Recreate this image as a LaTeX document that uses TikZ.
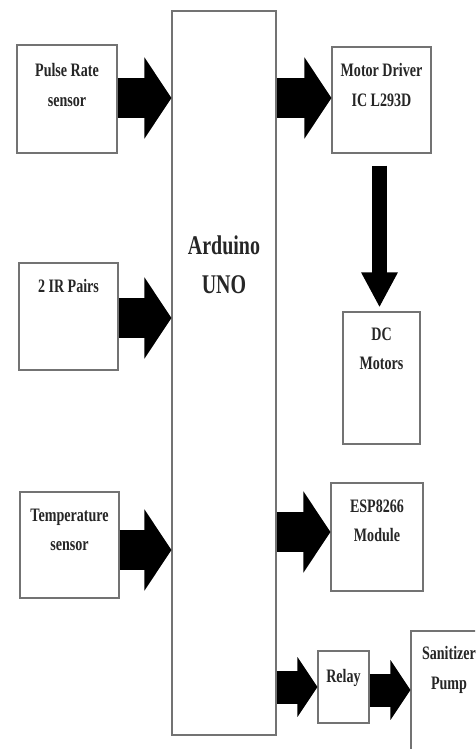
\documentclass[tikz,border=0pt]{standalone}
\usepackage{fontspec}
\setmainfont{Liberation Serif}
\newfontfamily\boxfont[FakeStretch=0.74]{Liberation Serif}
\usetikzlibrary{positioning,arrows.meta}

\tikzset{
    block/.style={draw=black!55, line width=1.1pt, inner sep=0pt},
    boxtxt/.style={inner sep=0pt, align=center, text=black!85,
        font=\boxfont\bfseries\fontsize{19}{29.5}\selectfont},
    bigarrow/.style={line width=40pt, -{Triangle[length=27pt,width=80pt]}},
    smallarrow/.style={line width=33pt, -{Triangle[length=20pt,width=59pt]}},
    downarrow/.style={line width=15pt, -{Triangle[length=35pt,width=34pt]}}
}

\begin{document}
\begin{tikzpicture}[x=1pt,y=-1pt]
            \clip (0,0) rectangle (475,749);
            \fill[white] (0,0) rectangle (475,749);

            %controller
            \node[block, minimum width=104pt, minimum height=724pt] (uno) at (224,373) {};
            \node[boxtxt, font=\boxfont\bfseries\fontsize{27}{39}\selectfont] (unotxt) at (224,265) {Arduino\\UNO};

            %inputs
            \node[block, minimum width=100pt, minimum height=108pt] (pulse) at (67,99) {};
            \node[boxtxt, below=19pt of pulse.north] (pulsetxt) {Pulse Rate\\sensor};
            \node[block, minimum width=99pt, minimum height=107pt] (ir) at (68.5,316.5) {};
            \node[boxtxt, below=17pt of ir.north] (irtxt) {2 IR Pairs};
            \node[block, minimum width=99pt, minimum height=106pt] (temp) at (69.5,545) {};
            \node[boxtxt, below=17pt of temp.north] (temptxt) {Temperature\\sensor};

            %outputs
            \node[block, minimum width=99pt, minimum height=106pt] (motor) at (381.5,100) {};
            \node[boxtxt, below=17pt of motor.north] (motortxt) {Motor Driver\\IC L293D};
            \node[block, minimum width=77pt, minimum height=132pt] (dc) at (381.5,378) {};
            \node[boxtxt, below=16pt of dc.north] (dctxt) {DC\\Motors};
            \node[block, minimum width=92pt, minimum height=108pt] (esp) at (377,537) {};
            \node[boxtxt, below=17pt of esp.north] (esptxt) {ESP8266\\Module};
            \node[block, minimum width=51pt, minimum height=72pt] (relay) at (343.5,687) {};
            \node[boxtxt, below=19pt of relay.north] (relaytxt) {Relay};
            \node[block, minimum width=76pt, minimum height=140pt] (pump) at (449,701) {};
            \node[boxtxt, below=16pt of pump.north] (pumptxt) {Sanitizer\\Pump};

            %arrows
            \draw[bigarrow] ([yshift=1pt]pulse.east) -- ([yshift=1pt]pulse.east -| uno.west);
            \draw[bigarrow] ([yshift=-1.5pt]ir.east) -- ([yshift=-1.5pt]ir.east -| uno.west);
            \draw[bigarrow] ([yshift=-5pt]temp.east) -- ([yshift=-5pt]temp.east -| uno.west);
            \draw[bigarrow] ([yshift=2pt]motor.west -| uno.east) -- ([yshift=2pt]motor.west);
            \draw[bigarrow] ([yshift=5pt]esp.west -| uno.east) -- ([yshift=5pt]esp.west);
            \draw[smallarrow] (relay.west -| uno.east) -- (relay.west);
            \draw[smallarrow] ([yshift=-3pt]relay.east) -- ([yshift=-3pt]relay.east -| pump.west);
            \draw[downarrow] ([yshift=-12pt,xshift=-2pt]motor.south) -- ([yshift=4pt,xshift=-2pt]dc.north);
\end{tikzpicture}
\end{document}
